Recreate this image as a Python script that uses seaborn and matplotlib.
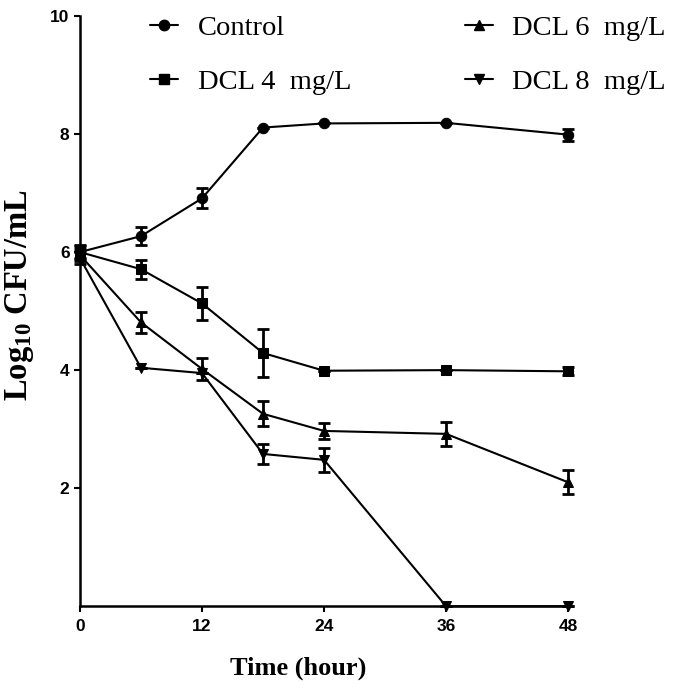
import pandas as pd
import seaborn as sns
import matplotlib.pyplot as plt
from matplotlib.lines import Line2D

# dados
tempo = [0, 6, 12, 18, 24, 36, 48]
grupos = ['Control', 'DCL 4  mg/L', 'DCL 6  mg/L', 'DCL 8  mg/L']
controle = [6.0, 6.27, 6.91, 8.11, 8.18, 8.19, 7.99]
dcl4 = [6.0, 5.71, 5.13, 4.29, 3.99, 4.0, 3.98]
dcl6 = [5.95, 4.81, 4.02, 3.26, 2.97, 2.92, 2.1]
dcl8 = [5.9, 4.04, 3.95, 2.58, 2.48, 0.0, 0.0]
erro_controle = [0.12, 0.15, 0.17, 0.0, 0.0, 0.0, 0.1]
erro_dcl4 = [0.1, 0.16, 0.28, 0.4, 0.0, 0.0, 0.07]
erro_dcl6 = [0.1, 0.18, 0.18, 0.21, 0.14, 0.2, 0.2]
erro_dcl8 = [0.1, 0.0, 0.0, 0.17, 0.2, 0.0, 0.0]
marcadores = ['o', 's', '^', 'v']

valores = [controle, dcl4, dcl6, dcl8]
erros = [erro_controle, erro_dcl4, erro_dcl6, erro_dcl8]

linhas = []
for g, v in zip(grupos, valores):
    for t, y in zip(tempo, v):
        linhas.append({'tempo': t, 'valor': y, 'grupo': g})
df = pd.DataFrame(linhas)

sns.set_theme(style="ticks")
plt.rcParams['mathtext.default'] = 'regular'
plt.rcParams['text.color'] = 'black'

fig = plt.figure(figsize=(6.89, 6.96), dpi=100)
ax = fig.add_axes([0.116, 0.129, 0.713, 0.848])

sns.lineplot(data=df, x='tempo', y='valor', style='grupo', markers=marcadores,
             dashes=False, color='black', linewidth=1.5, markersize=7.5,
             markeredgecolor='black', legend=False, ax=ax, clip_on=False, zorder=3)

for v, e in zip(valores, erros):
    ax.errorbar(tempo, v, yerr=e, fmt='none', ecolor='black', elinewidth=2,
                capsize=4.3, capthick=2, clip_on=False, zorder=2)

ax.set_xlim(0, 48.3)
ax.set_ylim(0, 10)
ax.set_xticks([0, 12, 24, 36, 48])
ax.set_yticks([2, 4, 6, 8, 10])
sns.despine(ax=ax)
for s in ['left', 'bottom']:
    ax.spines[s].set_linewidth(1.8)
    ax.spines[s].set_color('black')
ax.tick_params(direction='out', length=4, width=1.5, colors='black', labelsize=12.5)
ax.tick_params(axis='x', pad=5)
for lab in ax.get_xticklabels() + ax.get_yticklabels():
    lab.set_fontfamily(['Liberation Sans Narrow', 'Liberation Sans'])
    lab.set_fontweight('bold')

ax.set_xlabel('Time (hour)', fontfamily='Liberation Serif', fontweight='bold',
              fontsize=19, labelpad=16, color='black')
ax.xaxis.set_label_coords(0.445, -0.085)
ax.set_ylabel('Log$_{10}$ CFU/mL', fontfamily='Liberation Serif', fontweight='bold',
              fontsize=23.5, color='black')
ax.yaxis.set_label_coords(-0.09, 0.527)

handles = [Line2D([], [], color='black', marker=m, markersize=7.5, linewidth=1.5)
           for m in marcadores]
ax.legend(handles, grupos, ncol=2, frameon=False, loc='upper left',
          bbox_to_anchor=(0.2177, 0.978), bbox_transform=fig.transFigure,
          borderpad=0, borderaxespad=0, columnspacing=4.0, handlelength=1.0,
          handletextpad=0.67, labelspacing=0.96, labelcolor='black',
          prop={'family': 'Liberation Serif', 'size': 20.5})

plt.savefig('out.png', dpi=100)
